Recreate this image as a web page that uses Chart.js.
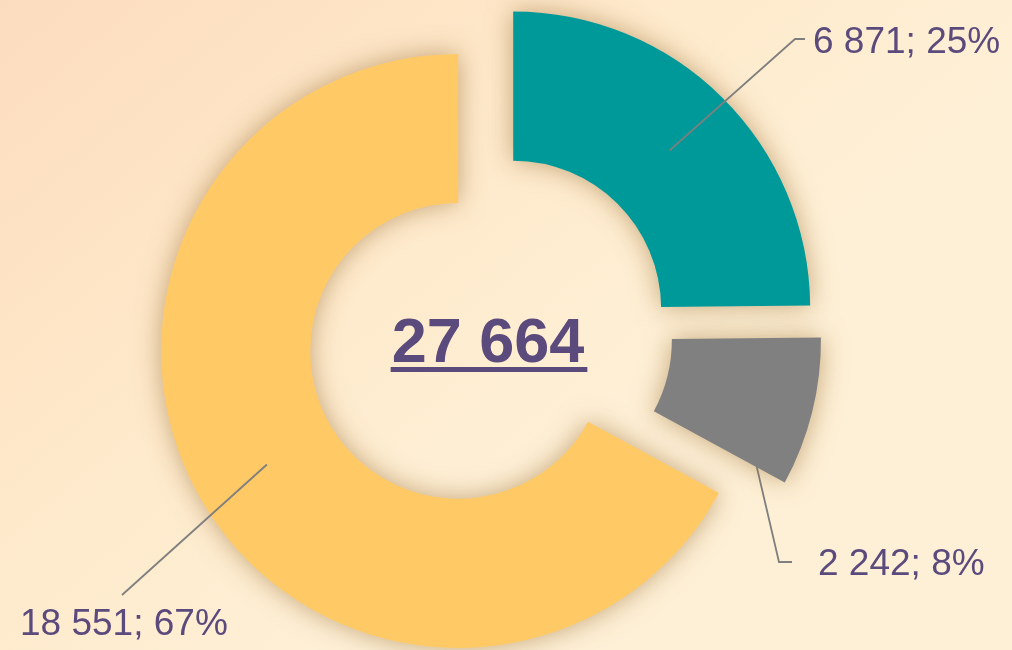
<!DOCTYPE html>
<html>
<head>
<meta charset="utf-8">
<script src="https://cdn.jsdelivr.net/npm/chart.js@4.4.1/dist/chart.umd.min.js"></script>
<style>
	html, body { margin: 0; padding: 0; }
	body {
		width: 1012px;
		height: 650px;
		overflow: hidden;
		background: linear-gradient(140deg, #fcdcbe 0%, #fde3c3 18%, #feeacc 38%, #fef0d6 62%, #fef0d6 100%);
	}
	#wrap { position: relative; width: 1012px; height: 650px; }
</style>
</head>
<body>
<div id="wrap"><canvas id="donut"></canvas></div>
<script>
// data
const categories = ['Segment A', 'Segment B', 'Segment C'];
const values = [6871, 2242, 18551];
const colours = ['#009999', '#808080', '#ffca66'];

// how far each slice is pulled out from the centre (px)
const explode = [33, 35, 37];

// where each callout sits: elbow of the leader line, end of line, text start / baseline
const callouts = [
	{ elbow: [795, 39], end: [805, 39], text: [813, 53], behind: false },
	{ elbow: [779, 562], end: [792, 562], text: [818, 575], behind: true },
	{ elbow: [122, 595], end: [122, 595], text: [20, 635], behind: false }
];

const textColour = '#5b4a7c';
const lineColour = '#7f7f7f';

const total = values.reduce((a, b) => a + b, 0);

function fmt(n) {
	return String(n).replace(/\B(?=(\d{3})+(?!\d))/g, ' ');
}

// shift every arc along its mid angle, like an exploded pie
const explodePlugin = {
	id: 'explode',
	afterDatasetUpdate(chart, args) {
		args.meta.data.forEach((arc, i) => {
			const d = explode[i] || 0;
			const mid = (arc.startAngle + arc.endAngle) / 2;
			arc.x += Math.cos(mid) * d;
			arc.y += Math.sin(mid) * d;
		});
	}
};

function midPoint(arc) {
	const mid = (arc.startAngle + arc.endAngle) / 2;
	const r = (arc.innerRadius + arc.outerRadius) / 2;
	return [arc.x + Math.cos(mid) * r, arc.y + Math.sin(mid) * r];
}

function drawLeader(ctx, arc, c) {
	const p = midPoint(arc);
	ctx.save();
	ctx.strokeStyle = lineColour;
	ctx.lineWidth = 1.8;
	ctx.beginPath();
	ctx.moveTo(p[0], p[1]);
	ctx.lineTo(c.elbow[0], c.elbow[1]);
	ctx.lineTo(c.end[0], c.end[1]);
	ctx.stroke();
	ctx.restore();
}

const calloutPlugin = {
	id: 'callouts',
	beforeDatasetsDraw(chart) {
		const arcs = chart.getDatasetMeta(0).data;
		arcs.forEach((arc, i) => {
			if (callouts[i].behind) drawLeader(chart.ctx, arc, callouts[i]);
		});
	},
	afterDraw(chart) {
		const ctx = chart.ctx;
		const arcs = chart.getDatasetMeta(0).data;
		arcs.forEach((arc, i) => {
			const c = callouts[i];
			if (!c.behind) drawLeader(ctx, arc, c);
			ctx.save();
			ctx.fillStyle = textColour;
			ctx.font = '37px "Liberation Sans", Arial, sans-serif';
			ctx.textAlign = 'left';
			ctx.textBaseline = 'alphabetic';
			const pct = Math.round(values[i] / total * 100);
			ctx.fillText(fmt(values[i]) + '; ' + pct + '%', c.text[0], c.text[1]);
			ctx.restore();
		});

		// total in the hole, underlined
		const cx = (chart.chartArea.left + chart.chartArea.right) / 2 - 2;
		const cy = (chart.chartArea.top + chart.chartArea.bottom) / 2;
		const label = fmt(total);
		ctx.save();
		ctx.fillStyle = textColour;
		ctx.font = 'bold 63px "Liberation Sans", Arial, sans-serif';
		ctx.textAlign = 'center';
		ctx.textBaseline = 'alphabetic';
		ctx.fillText(label, cx, cy + 30);
		const w = ctx.measureText(label).width;
		ctx.fillRect(cx - w / 2 - 1, cy + 35, w + 4, 5);
		ctx.restore();
	}
};

// soft brown glow behind the slices
const glowPlugin = {
	id: 'glow',
	beforeDatasetsDraw(chart) {
		const ctx = chart.ctx;
		ctx.save();
		ctx.shadowColor = 'rgba(150, 105, 45, 0.55)';
		ctx.shadowBlur = 26;
	},
	afterDatasetsDraw(chart) {
		chart.ctx.restore();
	}
};

const ctx = document.getElementById('donut');

new Chart(ctx, {
	type: 'doughnut',
	data: {
		labels: categories,
		datasets: [{
			data: values,
			backgroundColor: colours,
			borderWidth: 0,
			hoverOffset: 0
		}]
	},
	options: {
		responsive: true,
		maintainAspectRatio: false,
		animation: false,
		radius: 297,
		cutout: '49.8%',
		layout: {
			padding: { left: 0, right: 32, top: 14, bottom: 0 }
		},
		plugins: {
			legend: { display: false },
			tooltip: { enabled: false }
		}
	},
	plugins: [explodePlugin, calloutPlugin, glowPlugin]
});
</script>
</body>
</html>
